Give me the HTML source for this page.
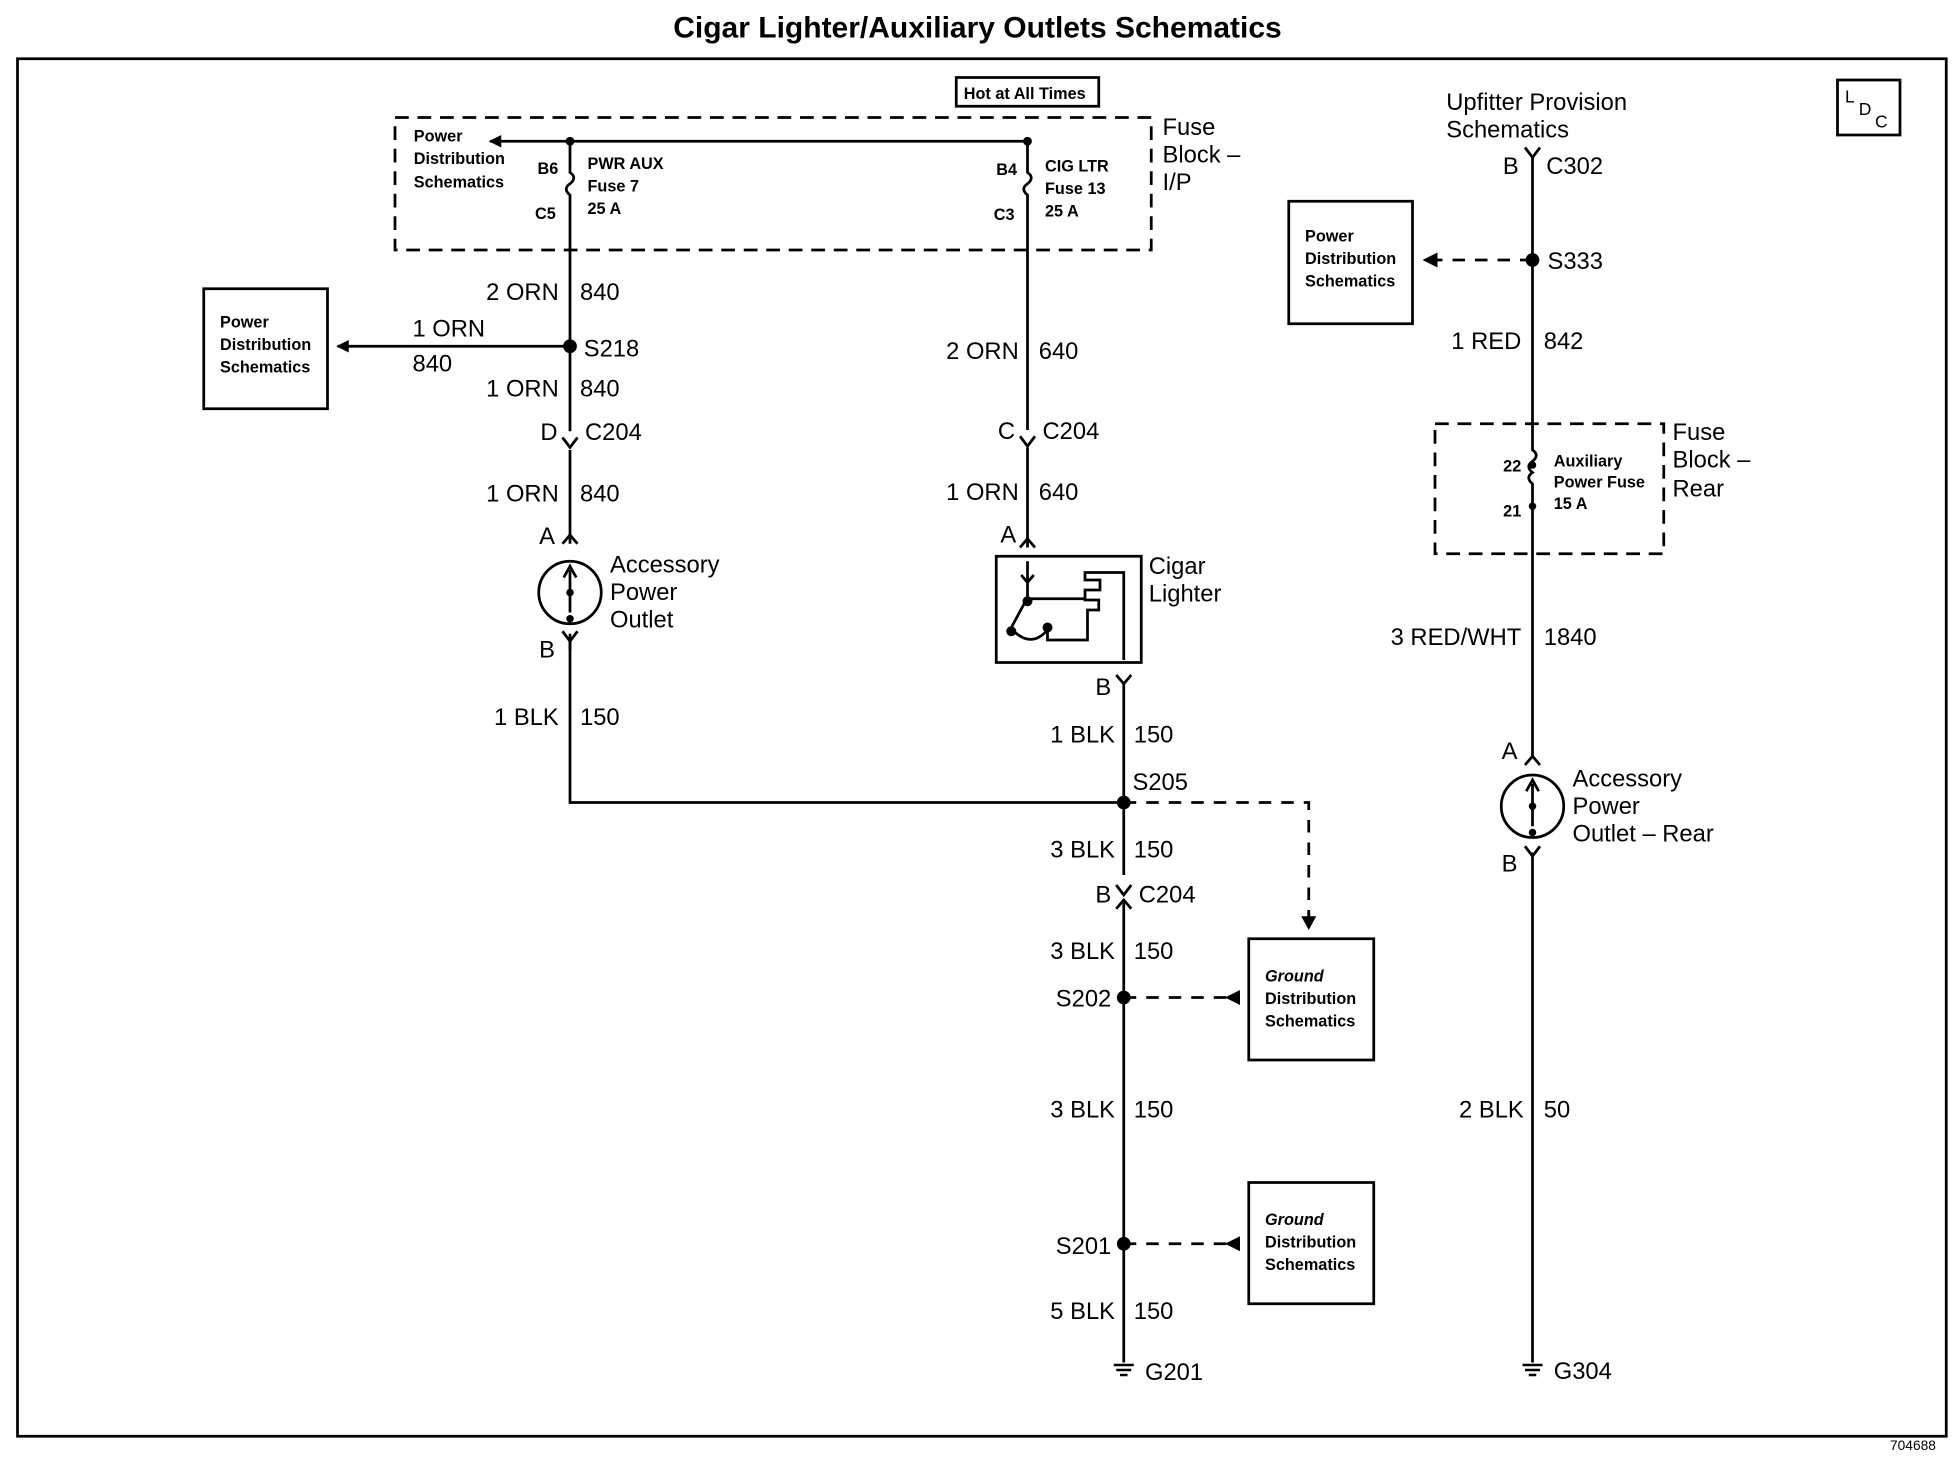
<!DOCTYPE html>
<html><head><meta charset="utf-8"><style>
html,body{margin:0;padding:0;background:#fff;}
svg{display:block;}
text{font-family:"Liberation Sans",Arial,sans-serif;fill:#000;}
.w{font-size:19px;}
.s{font-size:13px;font-weight:bold;}
.m{font-size:14px;}
</style></head><body>
<svg width="1960" height="1472" viewBox="0 0 1568 1177.6" xmlns="http://www.w3.org/2000/svg">
<defs>
<marker id="ah" markerWidth="10" markerHeight="10" refX="9" refY="5" orient="auto" markerUnits="userSpaceOnUse"><path d="M0,0 L10,5 L0,10 z" fill="#000"/></marker>
</defs>
<g stroke="#000" stroke-width="2.2" fill="none">
<rect x="14" y="47" width="1543" height="1102"/>
<rect x="1470" y="64" width="50" height="44"/>
<rect x="765" y="62" width="114" height="23"/>
<rect x="316" y="94" width="605" height="106" stroke-dasharray="11,7"/>
<rect x="1148" y="339" width="183" height="104" stroke-dasharray="11,7"/>
<rect x="163" y="231" width="99" height="96"/>
<rect x="1031" y="161" width="99" height="98"/>
<rect x="999" y="751" width="100" height="97"/>
<rect x="999" y="946" width="100" height="97"/>
<rect x="797" y="445" width="116" height="85"/>
<line x1="822" y1="113" x2="392" y2="113" marker-end="url(#ah)"/>
<path d="M456,113 V138 q6,4 0,9 q-6,4 0,9 V345 M456,360 V435 M456,507 V642 H899"/>
<path d="M450,350 L456,358 L462,350 M450,435 L456,428 L462,435 M450,505 L456,513 L462,505 M456,513 V520"/>
<circle cx="456" cy="474" r="25"/>
<line x1="456" y1="490" x2="456" y2="456"/><path d="M451,462 L456,453 L461,462"/>
<line x1="456" y1="277" x2="270" y2="277" marker-end="url(#ah)"/>
<path d="M822,113 V138 q6,4 0,9 q-6,4 0,9 V344 M822,358 V438"/>
<path d="M816,349 L822,357 L828,349 M816,438 L822,431 L828,438"/>
<path d="M822,449 V478 L808,504 M822,466 L817,460 M822,466 L827,460"/>
<path d="M820,479 H868 M810,504 q15,15 28,0 M838,502 V512 H870 V488 H879 V480 H868 V472 H880 V464 H868 V458 H870 H899 V528"/>
<path d="M893,540 L899,547 L905,540 M899,547 V556 M899,556 V700 M899,722 V1090 M893,727 L899,720 L905,727 M893,708 L899,716 L905,708"/>
<path d="M899,642 H1047 V735" stroke-dasharray="10,8"/>
<path d="M1047,730 V742"/>
<path d="M899,798 H985 M899,995 H985" stroke-dasharray="10,8"/>
<path d="M1226,126 V360 q6,4 0,9 q-6,4 0,9 q-6,4 0,9 V605 M1226,682 V1090"/>
<path d="M1220,118 L1226,126 L1232,118 M1220,612 L1226,605 L1232,612 M1220,677 L1226,685 L1232,677"/>
<circle cx="1226" cy="645" r="25"/>
<line x1="1226" y1="661" x2="1226" y2="627"/><path d="M1221,633 L1226,624 L1231,633"/>
<path d="M1226,208 H1145" stroke-dasharray="10,8"/>
</g>
<g fill="#000">
<path d="M1138,208 L1150,202 L1150,214 z"/>
<path d="M1047,744 L1041,733 L1053,733 z"/>
<path d="M980,798 L992,792 L992,804 z"/>
<path d="M980,995 L992,989 L992,1001 z"/>
<circle cx="456" cy="113" r="3.5"/><circle cx="822" cy="113" r="3.5"/>
<circle cx="456" cy="277" r="5.5"/><circle cx="899" cy="642" r="5.5"/>
<circle cx="899" cy="798" r="5.5"/><circle cx="899" cy="995" r="5.5"/>
<circle cx="1226" cy="208" r="5.5"/>
<circle cx="456" cy="474" r="3"/><circle cx="456" cy="495" r="3"/>
<circle cx="1226" cy="645" r="3"/><circle cx="1226" cy="666" r="3"/>
<circle cx="822" cy="481" r="4"/><circle cx="809" cy="505" r="4"/><circle cx="838" cy="502" r="4"/>
<circle cx="1226" cy="372" r="3"/><circle cx="1226" cy="405" r="3"/>
</g>
<g stroke="#000" stroke-width="2">
<line x1="891" y1="1092" x2="907" y2="1092"/><line x1="893" y1="1096" x2="905" y2="1096"/><line x1="896" y1="1100" x2="902" y2="1100"/>
<line x1="1218" y1="1092" x2="1234" y2="1092"/><line x1="1220" y1="1096" x2="1232" y2="1096"/><line x1="1223" y1="1100" x2="1229" y2="1100"/>
</g>
<text x="782" y="30" text-anchor="middle" style="font-size:24px;font-weight:bold">Cigar Lighter/Auxiliary Outlets Schematics</text>
<text x="1512" y="1160" style="font-size:11px">704688</text>
<text x="1476" y="82" class="m">L</text><text x="1487" y="92" class="m">D</text><text x="1500" y="102" class="m">C</text>
<text x="771" y="79" class="s">Hot at All Times</text>
<text x="331" y="113" class="s">Power</text><text x="331" y="131" class="s">Distribution</text><text x="331" y="150" class="s">Schematics</text>
<text x="430" y="139" class="s">B6</text><text x="428" y="175" class="s">C5</text>
<text x="470" y="135" class="s">PWR AUX</text><text x="470" y="153" class="s">Fuse 7</text><text x="470" y="171" class="s">25 A</text>
<text x="797" y="140" class="s">B4</text><text x="795" y="176" class="s">C3</text>
<text x="836" y="137" class="s">CIG LTR</text><text x="836" y="155" class="s">Fuse 13</text><text x="836" y="173" class="s">25 A</text>
<text x="930" y="108" class="w">Fuse</text><text x="930" y="130" class="w">Block –</text><text x="930" y="152" class="w">I/P</text>
<text x="176" y="262" class="s">Power</text><text x="176" y="280" class="s">Distribution</text><text x="176" y="298" class="s">Schematics</text>
<text x="1044" y="193" class="s">Power</text><text x="1044" y="211" class="s">Distribution</text><text x="1044" y="229" class="s">Schematics</text>
<text x="1012" y="785" class="s" font-style="italic">Ground</text><text x="1012" y="803" class="s">Distribution</text><text x="1012" y="821" class="s">Schematics</text>
<text x="1012" y="980" class="s" font-style="italic">Ground</text><text x="1012" y="998" class="s">Distribution</text><text x="1012" y="1016" class="s">Schematics</text>
<g class="w">
<text x="447" y="240" text-anchor="end" class="w">2 ORN</text><text x="464" y="240" class="w">840</text>
<text x="330" y="269" class="w">1 ORN</text><text x="330" y="297" class="w">840</text><text x="467" y="285" class="w">S218</text>
<text x="447" y="317" text-anchor="end" class="w">1 ORN</text><text x="464" y="317" class="w">840</text>
<text x="446" y="352" text-anchor="end" class="w">D</text><text x="468" y="352" class="w">C204</text>
<text x="447" y="401" text-anchor="end" class="w">1 ORN</text><text x="464" y="401" class="w">840</text>
<text x="444" y="435" text-anchor="end" class="w">A</text><text x="444" y="526" text-anchor="end" class="w">B</text>
<text x="488" y="458" class="w">Accessory</text><text x="488" y="480" class="w">Power</text><text x="488" y="502" class="w">Outlet</text>
<text x="447" y="580" text-anchor="end" class="w">1 BLK</text><text x="464" y="580" class="w">150</text>
<text x="815" y="287" text-anchor="end" class="w">2 ORN</text><text x="831" y="287" class="w">640</text>
<text x="812" y="351" text-anchor="end" class="w">C</text><text x="834" y="351" class="w">C204</text>
<text x="815" y="400" text-anchor="end" class="w">1 ORN</text><text x="831" y="400" class="w">640</text>
<text x="813" y="434" text-anchor="end" class="w">A</text>
<text x="919" y="459" class="w">Cigar</text><text x="919" y="481" class="w">Lighter</text>
<text x="889" y="556" text-anchor="end" class="w">B</text>
<text x="892" y="594" text-anchor="end" class="w">1 BLK</text><text x="907" y="594" class="w">150</text>
<text x="906" y="632" class="w">S205</text>
<text x="892" y="686" text-anchor="end" class="w">3 BLK</text><text x="907" y="686" class="w">150</text>
<text x="889" y="722" text-anchor="end" class="w">B</text><text x="911" y="722" class="w">C204</text>
<text x="892" y="767" text-anchor="end" class="w">3 BLK</text><text x="907" y="767" class="w">150</text>
<text x="889" y="805" text-anchor="end" class="w">S202</text>
<text x="892" y="894" text-anchor="end" class="w">3 BLK</text><text x="907" y="894" class="w">150</text>
<text x="889" y="1003" text-anchor="end" class="w">S201</text>
<text x="892" y="1055" text-anchor="end" class="w">5 BLK</text><text x="907" y="1055" class="w">150</text>
<text x="916" y="1104" class="w">G201</text>
<text x="1157" y="88" class="w">Upfitter Provision</text><text x="1157" y="110" class="w">Schematics</text>
<text x="1215" y="139" text-anchor="end" class="w">B</text><text x="1237" y="139" class="w">C302</text>
<text x="1238" y="215" class="w">S333</text>
<text x="1217" y="279" text-anchor="end" class="w">1 RED</text><text x="1235" y="279" class="w">842</text>
<text x="1217" y="377" text-anchor="end" class="s">22</text><text x="1217" y="413" text-anchor="end" class="s">21</text>
<text x="1243" y="373" class="s">Auxiliary</text><text x="1243" y="390" class="s">Power Fuse</text><text x="1243" y="407" class="s">15 A</text>
<text x="1338" y="352" class="w">Fuse</text><text x="1338" y="374" class="w">Block –</text><text x="1338" y="397" class="w">Rear</text>
<text x="1217" y="516" text-anchor="end" class="w">3 RED/WHT</text><text x="1235" y="516" class="w">1840</text>
<text x="1214" y="607" text-anchor="end" class="w">A</text><text x="1214" y="697" text-anchor="end" class="w">B</text>
<text x="1258" y="629" class="w">Accessory</text><text x="1258" y="651" class="w">Power</text><text x="1258" y="673" class="w">Outlet – Rear</text>
<text x="1219" y="894" text-anchor="end" class="w">2 BLK</text><text x="1235" y="894" class="w">50</text>
<text x="1243" y="1103" class="w">G304</text>
</g>
</svg>
</body></html>
